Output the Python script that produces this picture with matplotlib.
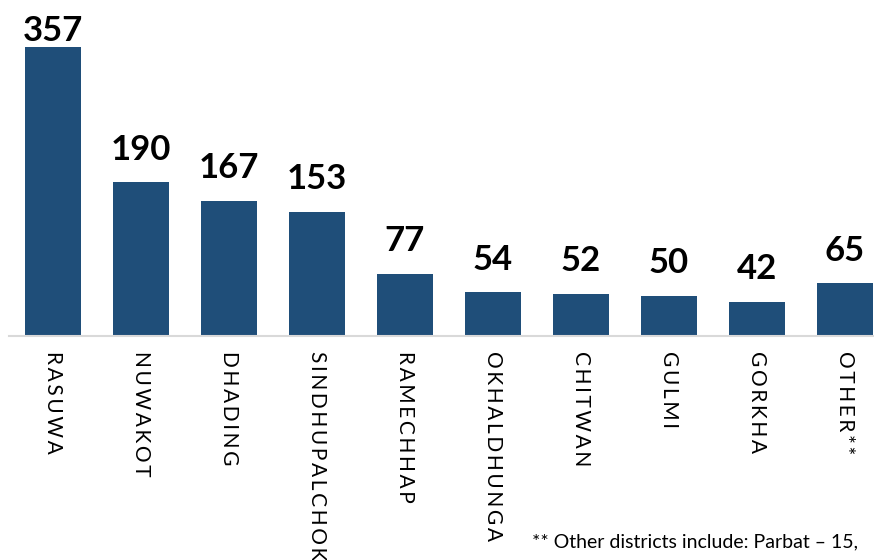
import matplotlib.pyplot as plt

# Données
districts = ['RASUWA', 'NUWAKOT', 'DHADING', 'SINDHUPALCHOK', 'RAMECHHAP',
             'OKHALDHUNGA', 'CHITWAN', 'GULMI', 'GORKHA', 'OTHER**']
valeurs = [357, 190, 167, 153, 77, 54, 52, 50, 42, 65]

plt.rcParams['font.family'] = ['Lato', 'DejaVu Sans']

fig = plt.figure(figsize=(8.74, 5.6), dpi=100)
ax = fig.add_axes([9 / 874, 0.4, 865 / 874, 0.6])

x = list(range(len(districts)))
ax.bar(x, valeurs, width=0.636, color='#1F4E79')

ymax = 415
ax.set_xlim(-0.5, -0.5 + 865 / 88)
ax.set_ylim(0, ymax)

# Étiquettes de valeur : décalées au-dessus des barres, sauf si pas de place
px_par_unite = 336 / ymax
for i, v in zip(x, valeurs):
    decalage = 12
    hauteur_txt = (decalage + 27) * 100 / 72 / px_par_unite
    if v + hauteur_txt > ymax:
        decalage = 0
    ax.annotate(str(v), (i, v), xytext=(0, decalage), textcoords='offset points',
                ha='center', va='bottom', fontsize=25, fontweight='bold',
                color='black', annotation_clip=False)

# Choix de l'espace entre les lettres : RASUWA doit faire ~103 px
renderer = fig.canvas.get_renderer()
meilleur, ecart = ' ', None
for esp in ['\u200a', '\u2009', '\u2006', '\u2005', ' ']:
    t = fig.text(0, 0, esp.join('RASUWA'), fontsize=15)
    w = t.get_window_extent(renderer).width
    t.remove()
    if ecart is None or abs(w - 103) < ecart:
        meilleur, ecart = esp, abs(w - 103)

etiquettes = [meilleur.join(d) for d in districts]
ax.set_xticks(x, etiquettes, rotation=-90, fontsize=15, ha='center', va='top')
ax.tick_params(axis='x', length=0, pad=11)
ax.set_yticks([])

for cote in ['top', 'right', 'left']:
    ax.spines[cote].set_visible(False)
ax.spines['bottom'].set_color('#D9D9D9')
ax.spines['bottom'].set_linewidth(1.5)

fig.text(532 / 874, 1 - 547 / 560, '** Other districts include: Parbat \u2013 15,',
         fontsize=14, ha='left', va='baseline')

fig.savefig('out.png', dpi=100)
